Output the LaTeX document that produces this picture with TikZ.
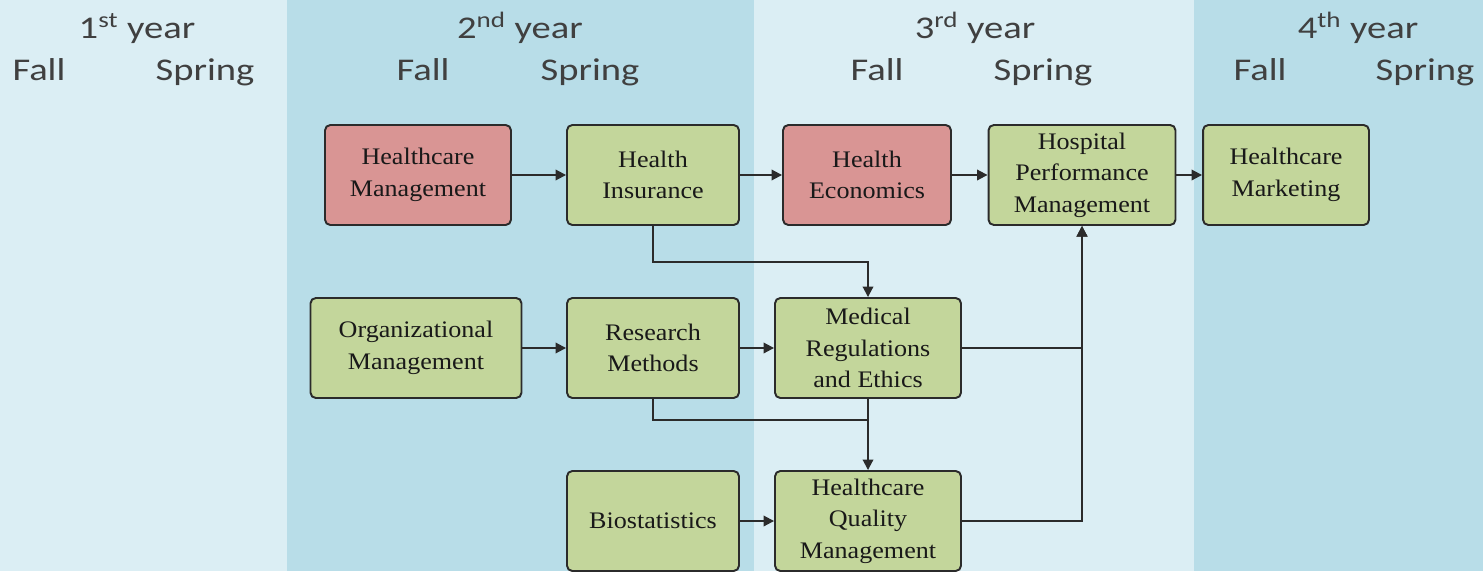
\documentclass[tikz,border=0pt]{standalone}
\usepackage{fontspec}
\usepackage{tikz}
\usetikzlibrary{arrows.meta,positioning,calc}
\newfontfamily\semesterfont[FakeStretch=1.22]{Carlito}
\newfontfamily\coursefont[FakeStretch=1.1]{Liberation Serif}
\definecolor{bandlight}{HTML}{DBEEF4}
\definecolor{banddark}{HTML}{B8DDE8}
\definecolor{corered}{HTML}{D99594}
\definecolor{coregreen}{HTML}{C3D69B}
\definecolor{edgegray}{HTML}{2B2B2B}
\tikzset{%
  course/.style={%
    draw=edgegray,
    line width=1.1pt,
    rounded corners=3pt,
    align=center,
    minimum height=2.0cm,
    inner sep=1pt,
    font=\coursefont\fontsize{13.5}{18}\selectfont,
    text=black!90
  }
}
\tikzset{%
  required/.style={%
    draw=edgegray,
    line width=1.1pt,
    -{Triangle[length=6pt,width=6pt]}
  }
}
\tikzset{%
  semester/.style={%
    font=\semesterfont\fontsize{18}{20}\selectfont,
    text=black!75,
    anchor=base
  }
}
\begin{document}
\begin{tikzpicture}[x=0.02cm,y=-0.02cm]
  \useasboundingbox (0,0) rectangle (1483,571);
  \fill [bandlight] (0,0) rectangle (287,571);
  \fill [banddark] (287,0) rectangle (754,571);
  \fill [bandlight] (754,0) rectangle (1194,571);
  \fill [banddark] (1194,0) rectangle (1483,571);
  \node [semester] (y1) at (137, 39) {1\textsuperscript{st} year};
  \node [semester] (y1f) at (39, 81) {Fall};
  \node [semester] (y1s) at (205, 81) {Spring};
  \node [semester] (y2) at (520, 39) {2\textsuperscript{nd} year};
  \node [semester] (y2f) at (423, 81) {Fall};
  \node [semester] (y2s) at (590, 81) {Spring};
  \node [semester] (y3) at (975, 39) {3\textsuperscript{rd} year};
  \node [semester] (y3f) at (877, 81) {Fall};
  \node [semester] (y3s) at (1043, 81) {Spring};
  \node [semester] (y4) at (1358, 39) {4\textsuperscript{th} year};
  \node [semester] (y4f) at (1260, 81) {Fall};
  \node [semester] (y4s) at (1425, 81) {Spring};
  \node [course, fill=corered, minimum width=3.72cm] (hcm) at (418, 175) {Healthcare\\Management};
  \node [course, fill=coregreen, minimum width=3.44cm] (hins) at (653, 175) {Health\\Insurance};
  \node [course, fill=corered, minimum width=3.36cm] (heco) at (867, 175) {Health\\Economics};
  \node [course, fill=coregreen, minimum width=3.74cm] (hpm) at (1082, 175) {Hospital\\Performance\\Management};
  \node [course, fill=coregreen, minimum width=3.32cm] (hmk) at (1286, 175) {Healthcare\\Marketing};
  \node [course, fill=coregreen, minimum width=4.22cm] (orgm) at (416, 348) {Organizational\\Management};
  \node [course, fill=coregreen, minimum width=3.44cm] (resm) at (653, 348) {Research\\Methods};
  \node [course, fill=coregreen, minimum width=3.72cm] (mre) at (868, 348) {Medical\\Regulations\\and Ethics};
  \node [course, fill=coregreen, minimum width=3.44cm] (bios) at (653, 521) {Biostatistics};
  \node [course, fill=coregreen, minimum width=3.72cm] (hqm) at (868, 521) {Healthcare\\Quality\\Management};
  \coordinate (insjoin) at (868, 262);
  \coordinate (resjoin) at (868, 420);
  \draw [required] (hcm) -- (hins);
  \draw [required] (hins) -- (heco);
  \draw [required] (heco) -- (hpm);
  \draw [required] (hpm) -- (hmk);
  \draw [required] (orgm) -- (resm);
  \draw [required] (resm) -- (mre);
  \draw [required] (bios) -- (hqm);
  \draw [required] (hins.south) |- (insjoin) -- (mre.north);
  \draw [draw=edgegray, line width=1.1pt] (resm.south) |- (resjoin);
  \draw [required] (mre.south) -- (hqm.north);
  \draw [required] (mre.east) -| (hpm.south);
  \draw [required] (hqm.east) -| (hpm.south);
\end{tikzpicture}
\end{document}
